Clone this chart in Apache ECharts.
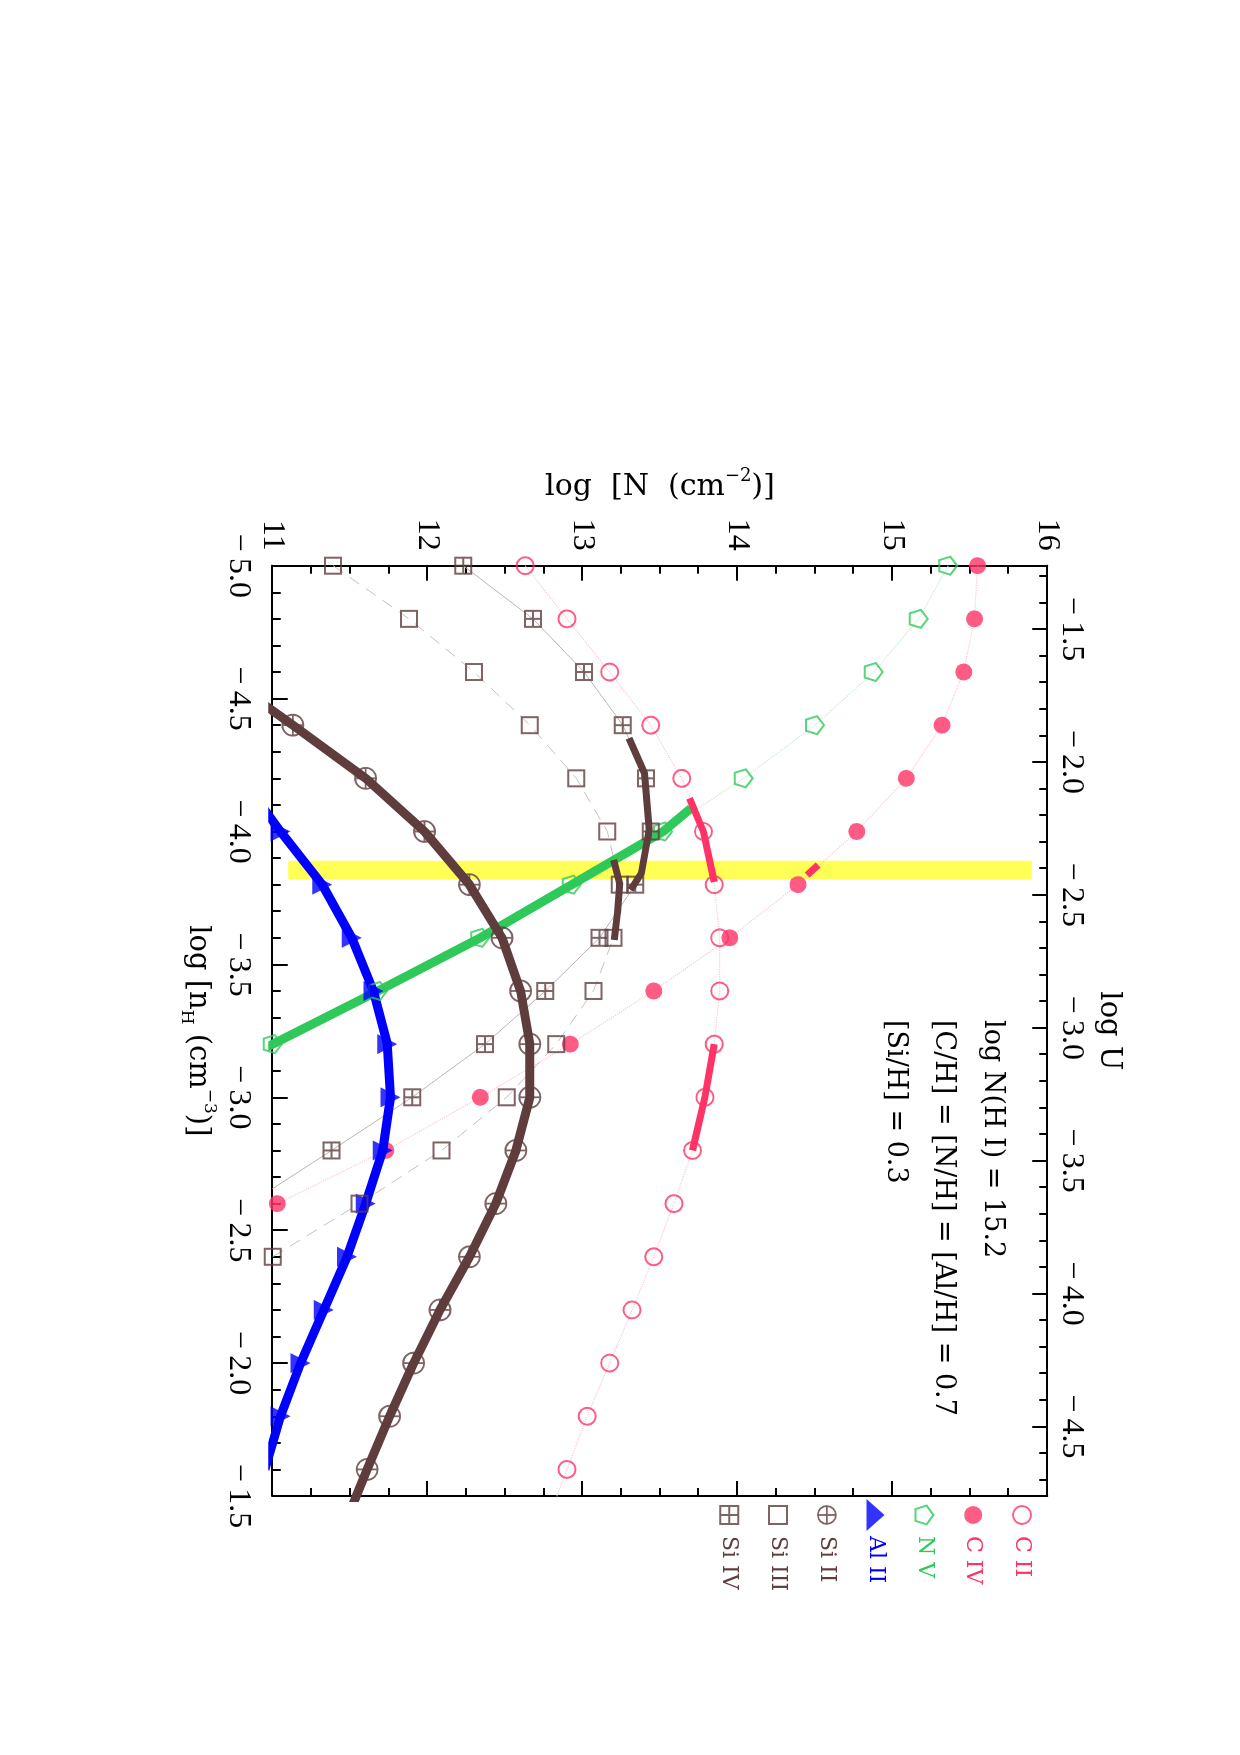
<!DOCTYPE html>
<html><head><meta charset="utf-8">
<script src="https://cdn.jsdelivr.net/npm/echarts@6/dist/echarts.min.js"></script>
<style>
html,body{margin:0;padding:0;overflow:hidden;background:#fff;width:1240px;height:1755px;}
#main{position:absolute;left:0;top:0;width:1755px;height:1240px;transform-origin:0 0;transform:translate(1240px,0) rotate(90deg);}
</style></head><body><div id="main"></div>
<script>
// ---------------- data (log nH grid, log N column densities) ----------------
const nH    = [-5.0,-4.8,-4.6,-4.4,-4.2,-4.0,-3.8,-3.6,-3.4,-3.2,-3.0,-2.8,-2.6,-2.4,-2.2,-2.0,-1.8,-1.6,-1.4];
const cII   = [12.63,12.90,13.175,13.44,13.64,13.78,13.85,13.885,13.885,13.85,13.79,13.71,13.59,13.46,13.32,13.175,13.03,12.90,12.77];
const cIV   = [15.55,15.53,15.46,15.32,15.09,14.77,14.39,13.95,13.46,12.92,12.34,11.73,11.03,10.3,null,null,null,null,null];
const nV    = [15.36,15.17,14.88,14.50,14.04,13.52,12.93,12.34,11.68,11.0,10.3,null,null,null,null,null,null,null,null];
const alII  = [null,null,null,null,10.8,11.05,11.32,11.51,11.65,11.74,11.76,11.71,11.60,11.48,11.33,11.18,11.05,10.95,null];
const siII  = [null,null,10.65,11.13,11.60,11.98,12.27,12.48,12.60,12.66,12.66,12.57,12.44,12.27,12.08,11.91,11.755,11.61,11.47];
const siIII = [11.39,11.88,12.30,12.66,12.96,13.16,13.24,13.20,13.07,12.83,12.51,12.09,11.56,11.0,10.4,null,null,null,null];
const siIV  = [12.23,12.68,13.01,13.26,13.41,13.44,13.34,13.11,12.76,12.37,11.90,11.38,10.85,null,null,null,null,null,null];

// thick segments: [log nH, log N]
const cIIThickA  = [[-4.125,13.69],[-4.0,13.78],[-3.81,13.85]];
const cIIThickB  = [[-3.2,13.85],[-3.0,13.79],[-2.8,13.71]];
const cIVThick   = [[-3.874,14.52],[-3.836,14.45]];
const nVThick    = [[-4.087,13.70],[-4.0,13.52],[-3.8,12.93],[-3.6,12.34],[-3.4,11.68],[-3.2,11.0],[-3.0,10.3]];
const siIVThick  = [[-4.351,13.30],[-4.219,13.40],[-4.006,13.43],[-3.843,13.38],[-3.78,13.31]];
const siIIIThick = [[-3.893,13.20],[-3.805,13.24],[-3.692,13.225],[-3.592,13.205]];

// highlighted band
const bandNH = [-3.89, -3.82];
const bandN  = [11.1, 15.9];

// axes
const nHRange = [-5.0, -1.5];
const nRange  = [11, 16];
const logUOffset = -6.262;           // log U = logUOffset - log nH
const logUMajor = [-1.5,-2.0,-2.5,-3.0,-3.5,-4.0,-4.5];
const logUMinor = [-1.3,-1.4,-1.6,-1.7,-1.8,-1.9,-2.1,-2.2,-2.3,-2.4,-2.6,-2.7,-2.8,-2.9,-3.1,-3.2,-3.3,-3.4,-3.6,-3.7,-3.8,-3.9,-4.1,-4.2,-4.3,-4.4,-4.6,-4.7];
const legendNames = ['C II','C IV','N V','Al II','Si II','Si III','Si IV'];
const notes = ['log N(H I) = 15.2','[C/H] = [N/H] = [Al/H] = 0.7','[Si/H] = 0.3'];

// ---------------- styling ----------------
const PINK='#ff3366', GREEN='#2fc95a', BLUE='#0000ff', BROWN='#5f3d3d';
const SERIF='"DejaVu Serif", serif';
const TICKF='"Liberation Serif", serif';
const CIRCLEPLUS='path://M0,10 A10,10 0 1,1 20,10 A10,10 0 1,1 0,10 Z M10,0 L10,20 M0,10 L20,10';
const SQUAREPLUS='path://M0,0 L20,0 L20,20 L0,20 Z M10,0 L10,20 M0,10 L20,10';
const SQUARE='path://M0,0 L20,0 L20,20 L0,20 Z';
const PENTAGON='path://M10,0 L19.51,6.91 L15.88,18.09 L4.12,18.09 L0.49,6.91 Z';
const CLEAR='rgba(0,0,0,0)';

const pairs = arr => nH.map((x,i)=>[x, arr[i]==null ? null : arr[i]]);
const pts = arr => nH.map((x,i)=>[x, arr[i]]).filter(p=>p[1]!=null);
const minus = v => (v<0?'\u2212\u2009':'') + Math.abs(v).toFixed(1);

function thinLine(name, arr, color, type, width){
  return {type:'line', name:name, data:pairs(arr), showSymbol:false, symbol:'none', z:2,
    lineStyle:{color:color, type:type, width:width}, silent:true, connectNulls:false};
}
function thickLine(name, data, color, width){
  return {type:'line', name:name, data:data, showSymbol:false, symbol:'none', z:3,
    lineStyle:{color:color, width:width, cap:'butt', join:'round'}, silent:true};
}
function markers(name, arr, symbol, size, fill, stroke, bw, z){
  return {type:'scatter', name:name, data:pts(arr), symbol:symbol, symbolSize:size, z:z||4,
    itemStyle:{color:fill, borderColor:stroke, borderWidth:bw}, silent:true};
}

const series = [
  {type:'line', name:'band', data:[], z:1, silent:true,
   markArea:{silent:true, itemStyle:{color:'#ffff55', opacity:1},
     data:[[{coord:[bandNH[0], bandN[0]]},{coord:[bandNH[1], bandN[1]]}]]}},
  thinLine('C II line', cII, '#ffc4d1', 'dotted', 1.2),
  thinLine('C IV line', cIV, '#ffc4d1', 'dotted', 1.2),
  thinLine('N V line', nV, '#c2ecd0', 'dotted', 1.2),
  thinLine('Si IV line', siIV, '#bdb3b3', 'solid', 1),
  thinLine('Si III line', siIII, '#c8c0c0', [12,8], 1),
  markers('C IV', cIV, 'circle', 17, PINK, PINK, 0, 2.5),
  thickLine('N V thick', nVThick, GREEN, 9),
  {type:'line', name:'Al II thick', data:pairs(alII), showSymbol:false, symbol:'none', z:3,
    lineStyle:{color:BLUE, width:9}, silent:true},
  {type:'line', name:'Si II thick', data:pairs(siII), showSymbol:false, symbol:'none', z:3,
    lineStyle:{color:BROWN, width:9}, silent:true},
  thickLine('Si IV thick', siIVThick, BROWN, 7),
  thickLine('Si III thick', siIIIThick, BROWN, 7),
  thickLine('C II thick A', cIIThickA, PINK, 7),
  thickLine('C II thick B', cIIThickB, PINK, 7),
  thickLine('C IV thick', cIVThick, PINK, 7),
  markers('C II', cII, 'circle', 17, CLEAR, PINK, 2),
  markers('N V', nV, PENTAGON, 18, CLEAR, GREEN, 2),
  markers('Al II', alII, 'triangle', 20, BLUE, BLUE, 0),
  markers('Si II', siII, CIRCLEPLUS, 21, CLEAR, BROWN, 1.8),
  markers('Si III', siIII, SQUARE, 16, CLEAR, BROWN, 2),
  markers('Si IV', siIV, SQUAREPLUS, 16, CLEAR, BROWN, 2)
];

const LT = c => ({color:c, fontSize:22, fontFamily:SERIF, lineHeight:18});
const legendStyle = {
  'C II':  {icon:'circle', itemStyle:{color:CLEAR, borderColor:PINK, borderWidth:2}, textStyle:LT(PINK)},
  'C IV':  {icon:'circle', itemStyle:{color:PINK, borderColor:PINK, borderWidth:0}, textStyle:LT(PINK)},
  'N V':   {icon:PENTAGON, itemStyle:{color:CLEAR, borderColor:GREEN, borderWidth:2}, textStyle:LT(GREEN)},
  'Al II': {icon:'triangle', itemStyle:{color:BLUE, borderColor:BLUE, borderWidth:0}, textStyle:LT(BLUE)},
  'Si II': {icon:CIRCLEPLUS, itemStyle:{color:CLEAR, borderColor:BROWN, borderWidth:1.8}, textStyle:LT(BROWN)},
  'Si III':{icon:SQUARE, itemStyle:{color:CLEAR, borderColor:BROWN, borderWidth:2}, textStyle:LT(BROWN)},
  'Si IV': {icon:SQUAREPLUS, itemStyle:{color:CLEAR, borderColor:BROWN, borderWidth:2}, textStyle:LT(BROWN)}
};

const axisLine = {show:true, lineStyle:{color:'#000', width:2}};
const majorTick = {show:true, inside:true, length:15, lineStyle:{color:'#000', width:2}};
const minorTick = (n)=>({show:true, splitNumber:n, length:8, lineStyle:{color:'#000', width:2}});

const chart = echarts.init(document.getElementById('main'), null, {renderer:'canvas'});
chart.setOption({
  animation:false,
  backgroundColor:'#fff',
  grid:{left:565.7, right:259, top:192.7, bottom:272.7, outerBoundsMode:'none', containLabel:false},
  xAxis:[
    {type:'value', position:'bottom', min:nHRange[0], max:nHRange[1], interval:0.5,
     axisLine:axisLine, axisTick:majorTick, minorTick:minorTick(5), splitLine:{show:false},
     axisLabel:{fontSize:32, fontFamily:TICKF, color:'#000', margin:18, formatter:minus},
     name:'{a|log [n}{s|H}{a| (cm}{p|\u22123}{a|)]}', nameLocation:'middle', nameGap:52,
     nameTextStyle:{rich:{
       a:{fontSize:29, fontFamily:SERIF, color:'#000', lineHeight:40},
       s:{fontSize:17, fontFamily:SERIF, color:'#000', lineHeight:17, verticalAlign:'bottom'},
       p:{fontSize:17, fontFamily:SERIF, color:'#000', lineHeight:17, verticalAlign:'top'}}}},
    {type:'value', position:'top', inverse:true, min:logUOffset+1.5, max:logUOffset+5.0,
     axisLine:axisLine, splitLine:{show:false},
     axisTick:Object.assign({}, majorTick, {customValues:logUMajor}),
     axisLabel:{fontSize:32, fontFamily:TICKF, color:'#000', margin:8, customValues:logUMajor, formatter:minus},
     name:'log U', nameLocation:'middle', nameGap:36,
     nameTextStyle:{fontSize:29, fontFamily:SERIF, color:'#000', lineHeight:32}},
    {type:'value', position:'top', inverse:true, min:logUOffset+1.5, max:logUOffset+5.0,
     axisLine:{show:false}, splitLine:{show:false}, axisLabel:{show:false},
     axisTick:{show:true, inside:true, length:8, lineStyle:{color:'#000', width:2}, customValues:logUMinor}}
  ],
  yAxis:[
    {type:'value', position:'left', min:nRange[0], max:nRange[1], interval:1,
     axisLine:axisLine, axisTick:majorTick, minorTick:minorTick(4), splitLine:{show:false},
     axisLabel:{fontSize:32, fontFamily:TICKF, color:'#000', margin:15},
     name:'{a|log  [N  (cm}{p|\u22122}{a|)]}', nameLocation:'middle', nameGap:58, nameRotate:90,
     nameTextStyle:{rich:{
       a:{fontSize:30, fontFamily:SERIF, color:'#000', lineHeight:40},
       p:{fontSize:18, fontFamily:SERIF, color:'#000', lineHeight:18, verticalAlign:'top'}}}},
    {type:'value', position:'right', min:nRange[0], max:nRange[1], interval:1,
     axisLine:axisLine, axisTick:majorTick, minorTick:minorTick(4), splitLine:{show:false},
     axisLabel:{show:false}}
  ],
  legend:{
    orient:'vertical', left:1499, top:207, itemWidth:32, itemHeight:18, itemGap:26.8, padding:0,
    selectedMode:false,
    textStyle:{fontSize:22, fontFamily:SERIF, lineHeight:18},
    data:legendNames.map(n=>Object.assign({name:n}, legendStyle[n]))
  },
  graphic:notes.map((t,i)=>({type:'text', x:1020, y:[248,296.5,345][i], z:100, silent:true,
     style:{text:t, fontSize:27, fontFamily:SERIF, fill:'#000', verticalAlign:'middle', align:'left'}})),
  series:series
});
</script></body></html>
